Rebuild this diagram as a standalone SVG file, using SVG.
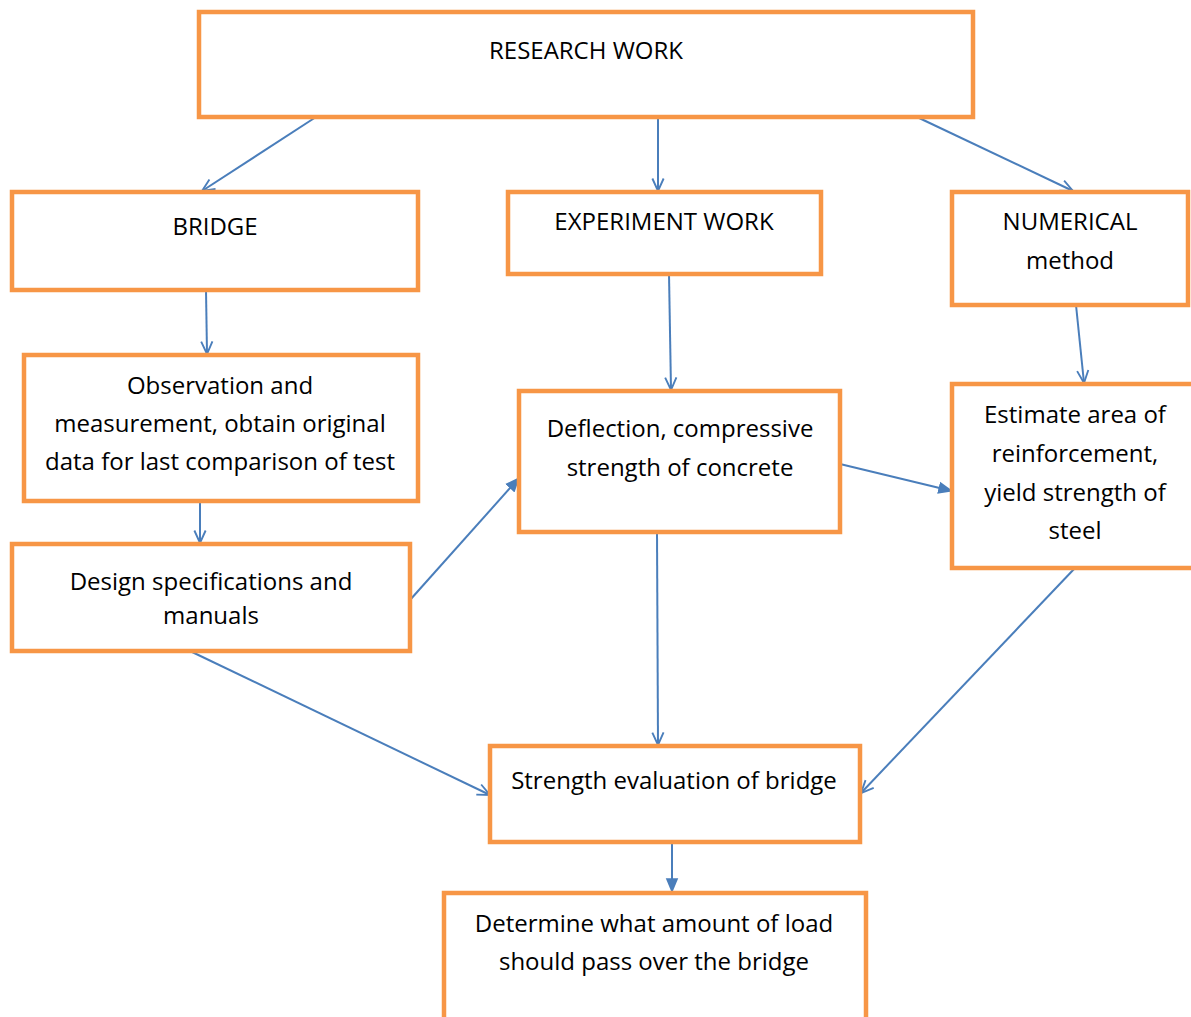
<svg xmlns="http://www.w3.org/2000/svg" width="1191" height="1017" viewBox="0 0 1191 1017">
<style>
.box{fill:#fff;stroke:#F79646;stroke-width:4.5}
.t{font-family:"Open Sans",Lato,"Liberation Sans",sans-serif;font-size:24px;fill:#000;text-anchor:middle;font-variant-ligatures:none}
.c{stroke:#4A7EBB;stroke-width:2;fill:none}
.o{marker-end:url(#open)}
.f{marker-end:url(#fill)}
</style>
<defs>
<marker id="open" viewBox="0 0 12 12" refX="11" refY="6" markerWidth="15" markerHeight="15" markerUnits="userSpaceOnUse" orient="auto">
<path d="M1,1.5 L11,6 L1,10.5" fill="none" stroke="#4A7EBB" stroke-width="1.5"/>
</marker>
<marker id="fill" viewBox="0 0 12 12" refX="11" refY="6" markerWidth="15" markerHeight="15" markerUnits="userSpaceOnUse" orient="auto">
<path d="M0,1 L12,6 L0,11 Z" fill="#4A7EBB"/>
</marker>
</defs>
<rect width="1191" height="1017" fill="#fff"/>
<g id="connectors">
<line class="c o" x1="316" y1="117" x2="202" y2="191"/>
<line class="c o" x1="658" y1="117" x2="658" y2="191"/>
<line class="c o" x1="917" y1="117" x2="1073" y2="191"/>
<line class="c o" x1="206" y1="290" x2="207" y2="354"/>
<line class="c o" x1="669" y1="274" x2="671" y2="390"/>
<line class="c o" x1="1076" y1="305" x2="1084" y2="383"/>
<line class="c o" x1="200" y1="501" x2="200" y2="543"/>
<line class="c f" x1="410" y1="600" x2="519" y2="478"/>
<line class="c f" x1="840" y1="464" x2="952" y2="491"/>
<line class="c o" x1="657" y1="532" x2="658" y2="745"/>
<line class="c o" x1="190" y1="651" x2="490" y2="795"/>
<line class="c o" x1="1075" y1="568" x2="861" y2="793"/>
<line class="c f" x1="672" y1="842" x2="672" y2="892"/>
</g>
<g id="research"><rect class="box" x="199" y="12" width="774" height="105"/><text class="t" x="586" y="59">RESEARCH WORK</text></g>
<g id="bridge"><rect class="box" x="12" y="192" width="406" height="98"/><text class="t" x="215" y="235">BRIDGE</text></g>
<g id="experiment"><rect class="box" x="508" y="192" width="313" height="82"/><text class="t" x="664" y="230">EXPERIMENT WORK</text></g>
<g id="numerical"><rect class="box" x="952" y="192" width="236" height="113"/><text class="t" x="1070" y="230">NUMERICAL</text><text class="t" x="1070" y="269">method</text></g>
<g id="observation"><rect class="box" x="24" y="355" width="394" height="146"/><text class="t" x="220" y="394">Observation and</text><text class="t" x="220" y="432">measurement, obtain original</text><text class="t" x="220" y="470">data for last comparison of test</text></g>
<g id="design"><rect class="box" x="12" y="544" width="398" height="107"/><text class="t" x="211" y="590">Design specifications and</text><text class="t" x="211" y="624">manuals</text></g>
<g id="deflection"><rect class="box" x="519" y="391" width="321" height="141"/><text class="t" x="680" y="437">Deflection, compressive</text><text class="t" x="680" y="476">strength of concrete</text></g>
<g id="estimate"><rect class="box" x="952" y="384" width="245" height="184"/><text class="t" x="1075" y="423">Estimate area of</text><text class="t" x="1075" y="462">reinforcement,</text><text class="t" x="1075" y="501">yield strength of</text><text class="t" x="1075" y="539">steel</text></g>
<g id="strength"><rect class="box" x="490" y="746" width="370" height="96"/><text class="t" x="674" y="789">Strength evaluation of bridge</text></g>
<g id="determine"><rect class="box" x="444" y="893" width="422" height="140"/><text class="t" x="654" y="932">Determine what amount of load</text><text class="t" x="654" y="970">should pass over the bridge</text></g>
</svg>
